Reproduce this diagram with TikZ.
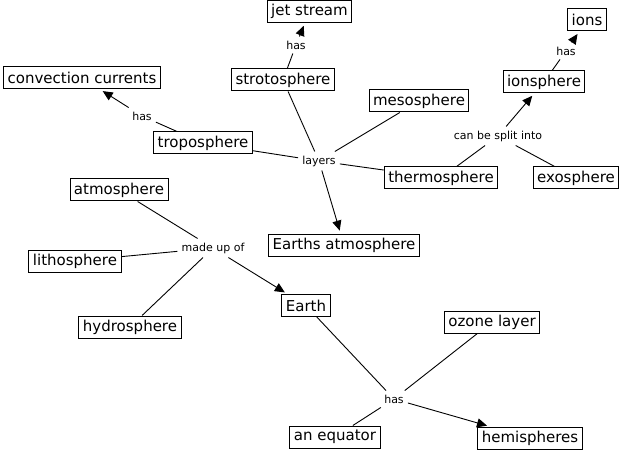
\documentclass[tikz,border=0pt]{standalone}
\usepackage{fontspec}
\setmainfont{DejaVu Sans}
\usetikzlibrary{arrows.meta}

\begin{document}
\begin{tikzpicture}[
  x=1pt, y=-1pt,
  box/.style={rectangle, draw=black, line width=1pt, inner xsep=4pt, inner ysep=2pt,
              minimum height=22pt, font=\fontsize{15}{17}\selectfont},
  lbl/.style={inner sep=4pt, font=\fontsize{11}{13}\selectfont},
  ln/.style={line width=0.9pt},
  arr/.style={-{Triangle[length=10pt, width=9pt]}, line width=0.9pt, shorten >=3pt}
]
\useasboundingbox (0,0) rectangle (625,452);
% concepts
\node[box] (jet)   at (309.5,11.5) {jet stream};
\node[box] (strat) at (283,80)   {strotosphere};
\node[box] (conv)  at (82,78)    {convection currents};
\node[box] (trop)  at (203,143)  {troposphere};
\node[box] (meso)  at (419,101)  {mesosphere};
\node[box] (therm) at (441,178)  {thermosphere};
\node[box] (earthatm) at (344,245) {Earths atmosphere};
\node[box] (ions)  at (587,20)   {ions};
\node[box] (iono)  at (544,82)   {ionsphere};
\node[box] (exo)   at (576,178)  {exosphere};
\node[box] (atmo)  at (119,190)  {atmosphere};
\node[box] (litho) at (75,261)   {lithosphere};
\node[box] (hydro) at (130,327)  {hydrosphere};
\node[box] (earth) at (306,305.5) {Earth};
\node[box] (ozone) at (492,322)  {ozone layer};
\node[box] (equ)   at (335,437)  {an equator};
\node[box] (hemi)  at (530,438)  {hemispheres};
% linking words
\node[lbl] (hasjet)  at (296,45)  {has};
\node[lbl] (hasconv) at (142,116) {has};
\node[lbl] (layers)  at (319,161) {layers};
\node[lbl] (split)   at (498,136) {can be split into};
\node[lbl] (hasions) at (566,51)  {has};
\node[lbl] (madeup)  at (213,248) {made up of};
\node[lbl] (hasearth) at (394,399) {has};
% links
\draw[ln] (strat) -- (hasjet);
\draw[arr] (hasjet) -- (jet);
\draw[ln] (trop) -- (hasconv);
\draw[arr] (hasconv) -- (conv);
\draw[ln] (trop) -- (layers);
\draw[ln] (strat) -- (layers);
\draw[ln] (meso) -- (layers);
\draw[ln] (therm) -- (layers);
\draw[arr] (layers) -- (earthatm);
\draw[ln] (therm) -- (split);
\draw[ln] (exo) -- (split);
\draw[arr] (split) -- (iono);
\draw[ln] (iono) -- (hasions);
\draw[arr] (hasions) -- (ions);
\draw[ln] (atmo) -- (madeup);
\draw[ln] (litho) -- (madeup);
\draw[ln] (hydro) -- (madeup);
\draw[arr] (madeup) -- (earth);
\draw[ln] (earth) -- (hasearth);
\draw[ln] (ozone) -- (hasearth);
\draw[ln] (equ) -- (hasearth);
\draw[arr] (hasearth) -- (hemi);
\end{tikzpicture}
\end{document}
